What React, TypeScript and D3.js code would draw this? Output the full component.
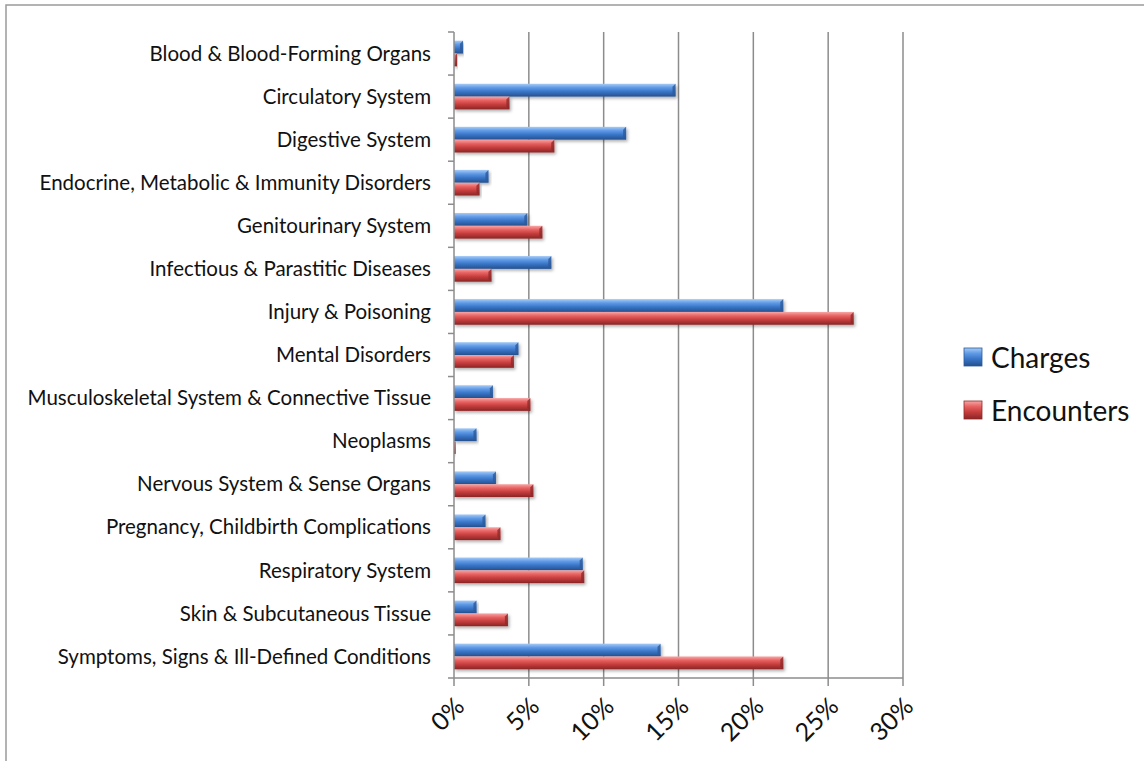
import React, { useEffect, useRef } from "react";
import * as d3 from "d3";

// Categories, top to bottom
const categories = [
  "Blood & Blood-Forming Organs",
  "Circulatory System",
  "Digestive System",
  "Endocrine, Metabolic & Immunity Disorders",
  "Genitourinary System",
  "Infectious & Parastitic  Diseases",
  "Injury & Poisoning",
  "Mental Disorders",
  "Musculoskeletal System & Connective Tissue",
  "Neoplasms",
  "Nervous System & Sense Organs",
  "Pregnancy, Childbirth Complications",
  "Respiratory System",
  "Skin & Subcutaneous Tissue",
  "Symptoms, Signs & Ill-Defined Conditions",
];

// share of total, in %
const charges = [0.6, 14.8, 11.5, 2.3, 4.9, 6.5, 22.0, 4.3, 2.6, 1.5, 2.8, 2.1, 8.6, 1.5, 13.8];
const encounters = [0.2, 3.7, 6.7, 1.7, 5.9, 2.5, 26.7, 4.0, 5.1, 0.1, 5.3, 3.1, 8.7, 3.6, 22.0];

const seriesNames = ["Charges", "Encounters"];
const xTicks = [0, 5, 10, 15, 20, 25, 30];

const W = 1144,
  H = 761;

export default function App() {
  const ref = useRef<SVGSVGElement>(null);

  useEffect(() => {
    const svg = d3.select(ref.current);
    svg.selectAll("*").remove();

    const font = "Lato, 'Open Sans', sans-serif";
    const margin = { top: 32, left: 454, right: 241, bottom: 83 };
    const plotW = W - margin.left - margin.right;
    const plotH = H - margin.top - margin.bottom;

    const defs = svg.append("defs");
    const gradients = [
      { id: "gBlue", stops: ["#a6cbf6", "#5f9ae6", "#3a76c8", "#24508e"] },
      { id: "gRed", stops: ["#f8a6a6", "#e86262", "#c73e3e", "#8a2525"] },
    ];
    gradients.forEach(g => {
      const lg = defs
        .append("linearGradient")
        .attr("id", g.id)
        .attr("x1", 0)
        .attr("y1", 0)
        .attr("x2", 0)
        .attr("y2", 1);
      [0, 0.3, 0.6, 1].forEach((o, i) =>
        lg.append("stop").attr("offset", o).attr("stop-color", g.stops[i])
      );
    });
    const shadow = defs
      .append("filter")
      .attr("id", "shadow")
      .attr("x", "-5%")
      .attr("y", "-30%")
      .attr("width", "115%")
      .attr("height", "180%");
    shadow
      .append("feDropShadow")
      .attr("dx", 1.5)
      .attr("dy", 2)
      .attr("stdDeviation", 1.5)
      .attr("flood-color", "#000")
      .attr("flood-opacity", 0.3);

    // outer border (only top & left visible in the frame)
    svg
      .append("rect")
      .attr("x", 6)
      .attr("y", 5)
      .attr("width", W + 20)
      .attr("height", H + 20)
      .attr("fill", "none")
      .attr("stroke", "#9a9a9a")
      .attr("stroke-width", 1.5);

    const g = svg.append("g").attr("transform", `translate(${margin.left},${margin.top})`);

    const x = d3.scaleLinear().domain([0, 30]).range([0, plotW]);
    const y = d3.scaleBand().domain(categories).range([0, plotH]);
    const inner = d3
      .scaleBand()
      .domain(seriesNames)
      .range([0, y.bandwidth()])
      .paddingOuter(0.68)
      .paddingInner(0);

    // gridlines
    g.selectAll(".grid")
      .data(xTicks.slice(1))
      .enter()
      .append("line")
      .attr("x1", d => x(d))
      .attr("x2", d => x(d))
      .attr("y1", 0)
      .attr("y2", plotH)
      .attr("stroke", "#8c8c8c")
      .attr("stroke-width", 1.5);

    // bars
    const series = [
      { name: "Charges", values: charges, fill: "url(#gBlue)", edge: "#2c5a9a" },
      { name: "Encounters", values: encounters, fill: "url(#gRed)", edge: "#8e2a2a" },
    ];
    series.forEach(s => {
      const bars = g
        .selectAll(`.bar-${s.name}`)
        .data(categories)
        .enter()
        .append("g")
        .attr("filter", "url(#shadow)");
      bars
        .append("rect")
        .attr("x", 0)
        .attr("y", c => (y(c) as number) + (inner(s.name) as number))
        .attr("width", (c, i) => x(s.values[i]))
        .attr("height", inner.bandwidth())
        .attr("fill", s.fill);
      // bevelled end cap
      bars
        .append("path")
        .attr("d", (c, i) => {
          const x1 = x(s.values[i]);
          const y0 = (y(c) as number) + (inner(s.name) as number);
          const h = inner.bandwidth();
          const b = Math.min(3, x1 / 2);
          return `M${x1 - b},${y0 + b}L${x1},${y0}L${x1},${y0 + h}L${x1 - b},${y0 + h - b}Z`;
        })
        .attr("fill", s.edge)
        .attr("opacity", 0.8);
    });

    // axes
    const yAxis = g.append("g");
    yAxis
      .append("line")
      .attr("x1", 0)
      .attr("x2", 0)
      .attr("y1", 0)
      .attr("y2", plotH)
      .attr("stroke", "#8c8c8c")
      .attr("stroke-width", 1.5);
    yAxis
      .selectAll(".ytick")
      .data(d3.range(categories.length + 1))
      .enter()
      .append("line")
      .attr("x1", -6)
      .attr("x2", 0)
      .attr("y1", i => i * y.step())
      .attr("y2", i => i * y.step())
      .attr("stroke", "#8c8c8c")
      .attr("stroke-width", 1.5);
    yAxis
      .selectAll(".ylabel")
      .data(categories)
      .enter()
      .append("text")
      .attr("x", -23)
      .attr("y", c => (y(c) as number) + y.bandwidth() / 2)
      .attr("dy", "0.35em")
      .attr("text-anchor", "end")
      .attr("font-family", font)
      .attr("font-size", 20.5)
      .attr("fill", "#111")
      .text(c => c);

    const xAxis = g.append("g").attr("transform", `translate(0,${plotH})`);
    xAxis
      .append("line")
      .attr("x1", 0)
      .attr("x2", plotW)
      .attr("stroke", "#8c8c8c")
      .attr("stroke-width", 1.5);
    xAxis
      .selectAll(".xtick")
      .data(xTicks)
      .enter()
      .append("line")
      .attr("x1", d => x(d))
      .attr("x2", d => x(d))
      .attr("y1", 0)
      .attr("y2", 8)
      .attr("stroke", "#8c8c8c")
      .attr("stroke-width", 1.5);
    xAxis
      .selectAll(".xlabel")
      .data(xTicks)
      .enter()
      .append("text")
      .attr("transform", d => `translate(${x(d) + 12},${30}) rotate(-45)`)
      .attr("text-anchor", "end")
      .attr("font-family", font)
      .attr("font-size", 25)
      .attr("fill", "#111")
      .text(d => d + "%");

    // legend
    const legend = svg.append("g").attr("transform", "translate(964,348)");
    series.forEach((s, i) => {
      const row = legend.append("g").attr("transform", `translate(0,${i * 53})`);
      row
        .append("rect")
        .attr("width", 18)
        .attr("height", 18)
        .attr("fill", s.fill)
        .attr("stroke", s.edge)
        .attr("stroke-width", 0.8);
      row
        .append("text")
        .attr("x", 27)
        .attr("y", 10)
        .attr("dy", "0.35em")
        .attr("font-family", font)
        .attr("font-size", 28)
        .attr("fill", "#111")
        .text(s.name);
    });
  }, []);

  return (
    <svg
      ref={ref}
      width={W}
      height={H}
      style={{ position: "absolute", left: 0, top: 0, background: "#fff" }}
    />
  );
}
